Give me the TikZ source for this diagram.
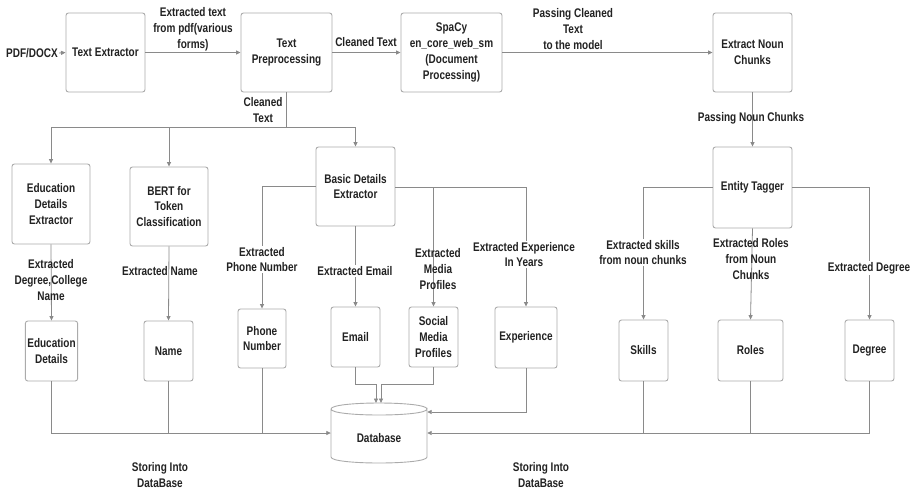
\documentclass[tikz,border=0pt]{standalone}
\usepackage{fontspec}
\setmainfont{Liberation Sans}[FakeStretch=0.8]
\usetikzlibrary{arrows.meta}
\definecolor{bordc}{HTML}{ABABAB}
\definecolor{linec}{HTML}{8A8A8A}
\definecolor{txtc}{HTML}{222222}
\begin{document}
\begin{tikzpicture}[x=1pt,y=-1pt,
  font=\bfseries\fontsize{12.5}{15.8}\selectfont, text=txtc,
  box/.style={draw=bordc, line width=0.9pt, rounded corners=2.5pt, fill=white, align=center, inner sep=2pt},
  conn/.style={draw=linec, line width=0.8pt},
  arr/.style={conn, -{Triangle[length=4.5pt,width=4pt]}},
  lbl/.style={align=center, inner sep=1pt},
  lblw/.style={lbl, fill=white}]
\useasboundingbox[fill=white] (0,0) rectangle (917,491);

% top row
\node[lbl] (pdf) at (32,53) {PDF/DOCX};
\node[box, minimum width=79pt, minimum height=79pt] (te) at (105.5,52.5) {Text Extractor};
\node[box, minimum width=91pt, minimum height=79pt] (tp) at (286.5,52.5) {Text\\Preprocessing};
\node[box, minimum width=101pt, minimum height=79pt] (spacy) at (451.5,52.5) {SpaCy\\en\_core\_web\_sm\\(Document\\Processing)};
\node[box, minimum width=79pt, minimum height=79pt] (enc) at (752.5,52.5) {Extract Noun\\Chunks};
\node[box, minimum width=79pt, minimum height=81pt] (et) at (752.5,187.5) {Entity Tagger};

% second row
\node[box, minimum width=78pt, minimum height=80pt] (ede) at (51,204) {Education\\Details\\Extractor};
\node[box, minimum width=78pt, minimum height=79pt] (bert) at (169,206.5) {BERT for\\Token\\Classification};
\node[box, minimum width=79pt, minimum height=79pt] (bde) at (355.5,186.5) {Basic Details\\Extractor};

% third row
\node[box, minimum width=49pt, minimum height=60pt] (ed) at (51.5,351) {Education\\Details};
\node[box, minimum width=49pt, minimum height=60pt] (name) at (168.5,351) {Name};
\node[box, minimum width=48pt, minimum height=59pt] (phone) at (262,338.5) {Phone\\Number};
\node[box, minimum width=49pt, minimum height=60pt] (email) at (355.5,337) {Email};
\node[box, minimum width=49pt, minimum height=60pt] (smp) at (433.5,337) {Social\\Media\\Profiles};
\node[box, minimum width=62pt, minimum height=61pt] (exp) at (526,337.5) {Experience};
\node[box, minimum width=49pt, minimum height=61pt] (skills) at (643.5,350.5) {Skills};
\node[box, minimum width=65pt, minimum height=61pt] (roles) at (750.5,350.5) {Roles};
\node[box, minimum width=49pt, minimum height=61pt] (degree) at (869.5,350.5) {Degree};

% database
\node[minimum width=96pt, minimum height=60pt, inner sep=0pt] (db) at (379,433) {};
\draw[draw=bordc, line width=0.9pt, fill=white]
  (331,409) -- (331,457) .. controls (331,465) and (427,465) .. (427,457) -- (427,409)
  .. controls (427,417) and (331,417) .. (331,409);
\draw[draw=bordc, line width=0.9pt]
  (331,409) .. controls (331,401) and (427,401) .. (427,409);
\node at (379,438) {Database};

% coordinates
\coordinate (cl) at (286.5,127);
\coordinate (db1) at (376,403);
\coordinate (db2) at (381,403);

% top connectors
\draw[arr] (pdf.east) -- (te.west);
\draw[arr] (te.east) -- (tp.west);
\draw[arr] (tp.east) -- (spacy.west);
\draw[arr] (spacy.east) -- (enc.west);
\draw[arr] (enc.south) -- (et.north);

% cleaned text branches
\draw[conn] (tp.south) -- (cl);
\draw[arr] (cl) -- (ede.north |- cl) -- (ede.north);
\draw[arr] (bert.north |- cl) -- (bert.north);
\draw[arr] (cl) -- (bde.north |- cl) -- (bde.north);

% extractor outputs
\draw[arr] (ede.south) -- (ed.north);
\draw[arr] (bert.south) -- (name.north);

% basic details branches
\draw[arr] (bde.west |- 0,186) -- (phone.north |- 0,186) -- (phone.north);
\draw[arr] (bde.east |- 0,187) -- (exp.north |- 0,187) -- (exp.north);
\draw[arr] (smp.north |- 0,187) -- (smp.north);
\draw[arr] (bde.south) -- (email.north);

% entity tagger branches
\draw[arr] (et.west) -- (skills.north |- et.west) -- (skills.north);
\draw[arr] (et.east) -- (degree.north |- et.east) -- (degree.north);
\draw[arr] (et.south) -- (roles.north);

% to database
\draw[arr] (ed.south) -- (ed.south |- db.west) -- (db.west);
\draw[conn] (name.south) -- (name.south |- db.west);
\draw[conn] (phone.south) -- (phone.south |- db.west);
\draw[arr] (degree.south) -- (degree.south |- db.east) -- (db.east);
\draw[conn] (skills.south) -- (skills.south |- db.east);
\draw[conn] (roles.south) -- (roles.south |- db.east);
\draw[arr] (exp.south) -- (exp.south |- 0,412) -- (db.east |- 0,412);
\draw[arr] (email.south) -- (email.south |- 0,384) -- (db1 |- 0,384) -- (db1);
\draw[arr] (smp.south) -- (smp.south |- 0,384) -- (db2 |- 0,384) -- (db2);

% labels
\node[lbl] (l1) at (193,29) {Extracted text\\from pdf(various\\forms)};
\node[lbl] (l2) at (366,42) {Cleaned Text};
\node[lbl] (l3) at (573,29) {Passing Cleaned\\Text\\to the model};
\node[lbl] (l4) at (751,118) {Passing Noun Chunks};
\node[lbl] (l5) at (263,110) {Cleaned\\Text};
\node[lbl] (l6) at (51,280) {Extracted\\Degree,College\\Name};
\node[lbl] (l7) at (160,271) {Extracted Name};
\node[lblw] (l8) at (262,259.5) {Extracted\\Phone Number};
\node[lblw] (l9) at (355,271) {Extracted Email};
\node[lbl] (l10) at (438,269) {Extracted\\Media\\Profiles};
\node[lblw] (l11) at (524,254.5) {Extracted Experience\\In Years};
\node[lblw] (l12) at (643,252.5) {Extracted skills\\from noun chunks};
\node[lbl] (l13) at (751,259) {Extracted Roles\\from Noun\\Chunks};
\node[lblw] (l14) at (869,268) {Extracted Degree};
\node[lbl] (l15) at (160,475) {Storing Into\\DataBase};
\node[lbl] (l16) at (541,475) {Storing Into\\DataBase};
\end{tikzpicture}
\end{document}
